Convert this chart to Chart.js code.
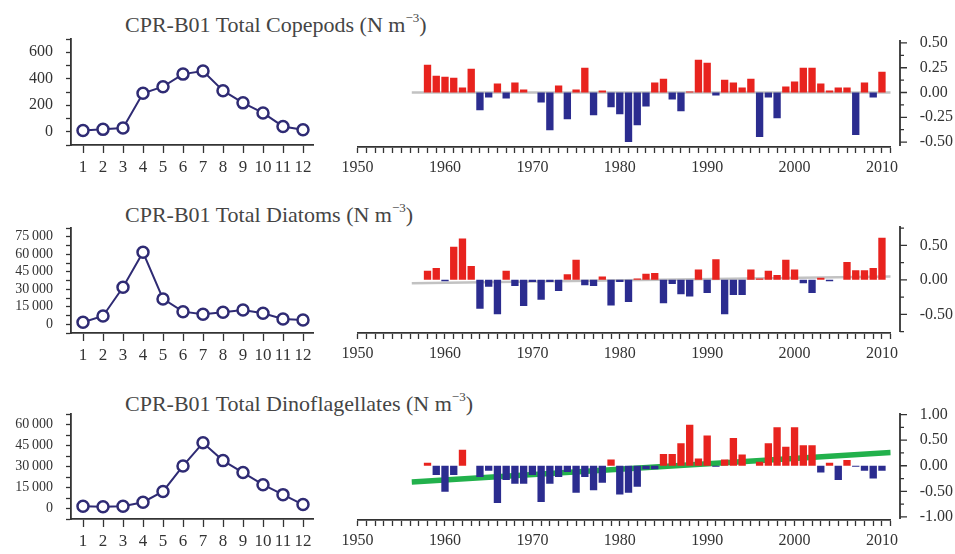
<!DOCTYPE html>
<html>
<head>
<meta charset="utf-8">
<title>CPR-B01 plankton</title>
<script src="https://cdn.jsdelivr.net/npm/chart.js@4.4.1/dist/chart.umd.min.js"></script>
<style>
  html, body { margin: 0; padding: 0; background: #fff; }
  #page { position: relative; width: 955px; height: 554px; overflow: hidden; background: #fff; }
  #page canvas { position: absolute; }
  .ttl { position: absolute; left: 125px; font: 22px/22px "Liberation Serif", serif; color: #454545; white-space: nowrap; }
  .ttl sup { font-size: 13px; position: relative; top: -2px; }
</style>
</head>
<body>
<div id="page">
  <div class="ttl" style="top:9px">CPR-B01 Total Copepods (N m<sup>−3</sup>)</div>
  <div class="ttl" style="top:199px">CPR-B01 Total Diatoms (N m<sup>−3</sup>)</div>
  <div class="ttl" style="top:388px">CPR-B01 Total Dinoflagellates (N m<sup>−3</sup>)</div>

  <canvas id="copeMonth" width="330" height="150" style="left:0;top:27px"></canvas>
  <canvas id="copeYear" width="615" height="155" style="left:340px;top:28px"></canvas>
  <canvas id="diatomMonth" width="330" height="149" style="left:0;top:216px"></canvas>
  <canvas id="diatomYear" width="615" height="155" style="left:340px;top:214px"></canvas>
  <canvas id="dinoMonth" width="330" height="149" style="left:0;top:402px"></canvas>
  <canvas id="dinoYear" width="615" height="155" style="left:340px;top:401px"></canvas>
</div>

<script>
/* ── Data ─────────────────────────────────────────────────── */
var months = [1, 2, 3, 4, 5, 6, 7, 8, 9, 10, 11, 12];
var copeMonthly   = [10, 18, 28, 290, 340, 435, 458, 310, 218, 142, 40, 15];
var diatomMonthly = [1700, 7100, 31700, 61700, 21700, 10800, 8600, 10300, 12300, 9400, 4500, 3700];
var dinoMonthly   = [1600, 1200, 1600, 4500, 12200, 30400, 46900, 34200, 25700, 17000, 9900, 2800];

var years = [1958, 1959, 1960, 1961, 1962, 1963, 1964, 1965, 1966, 1967,
             1968, 1969, 1970, 1971, 1972, 1973, 1974, 1975, 1976, 1977,
             1978, 1979, 1980, 1981, 1982, 1983, 1984, 1985, 1986, 1987,
             1988, 1989, 1990, 1991, 1992, 1993, 1994, 1995, 1996, 1997,
             1998, 1999, 2000, 2001, 2002, 2003, 2004, 2005, 2006, 2007,
             2008, 2009, 2010];

var copeAnom = [0.28, 0.17, 0.16, 0.15, 0.05, 0.24, -0.18, -0.05, 0.09, -0.06,
                0.10, 0.03, 0.00, -0.10, -0.38, 0.07, -0.27, 0.03, 0.25, -0.23,
                0.02, -0.15, -0.22, -0.50, -0.33, -0.14, 0.10, 0.14, -0.07, -0.19,
                0.01, 0.33, 0.30, -0.03, 0.13, 0.10, 0.05, 0.14, -0.45, -0.05,
                -0.26, 0.06, 0.11, 0.25, 0.25, 0.09, 0.02, 0.05, 0.05, -0.43,
                0.10, -0.05, 0.21];

var diatomAnom = [0.13, 0.17, -0.02, 0.48, 0.60, 0.20, -0.42, -0.10, -0.50, 0.13,
                  -0.09, -0.38, -0.03, -0.29, -0.03, -0.16, 0.08, 0.29, -0.08, -0.09,
                  0.05, -0.37, -0.03, -0.32, 0.02, 0.09, 0.10, -0.34, -0.06, -0.21,
                  -0.24, 0.15, -0.19, 0.30, -0.50, -0.22, -0.22, 0.15, 0.02, 0.13,
                  0.07, 0.29, 0.15, -0.05, -0.19, 0.03, -0.02, 0.00, 0.26, 0.14,
                  0.14, 0.17, 0.61];

var dinoAnom = [0.06, -0.18, -0.51, -0.18, 0.31, 0.00, -0.22, -0.10, -0.73, -0.28,
                -0.35, -0.35, -0.18, -0.71, -0.35, -0.22, -0.12, -0.53, -0.22, -0.48,
                -0.33, 0.12, -0.56, -0.53, -0.41, -0.07, -0.07, 0.23, 0.23, 0.44,
                0.80, 0.14, 0.59, -0.02, 0.12, 0.54, 0.22, 0.00, 0.08, 0.44,
                0.75, 0.37, 0.75, 0.40, 0.40, -0.13, 0.06, -0.28, 0.11, -0.02,
                -0.10, -0.25, -0.10];

/* trend lines: start / end year and value */
var trendYears  = [1956.2, 2011];
var copeTrend   = [0.00, 0.00];
var diatomTrend = [-0.05, 0.05];
var dinoTrend   = [-0.32, 0.26];

/* tick labels */
var yearLabels       = [1950, 1960, 1970, 1980, 1990, 2000, 2010];
var copeYLabels      = [0, 200, 400, 600];
var diatomYLabels    = [0, 15000, 30000, 45000, 60000, 75000];
var dinoYLabels      = [0, 15000, 30000, 45000, 60000];
var copeAnomLabels   = [-0.5, -0.25, 0, 0.25, 0.5];
var diatomAnomLabels = [-0.5, 0, 0.5];
var dinoAnomLabels   = [-1, -0.5, 0, 0.5, 1];

(function () {
  "use strict";

  var SERIF = "'Liberation Serif', 'DejaVu Serif', serif";
  var NAVY = "#2f2b74";
  var RED = "#e8231e";
  var BLUE = "#2b2c8f";
  var AXIS = "#333333";
  var TXT = "#333333";

  Chart.defaults.font.family = SERIF;
  Chart.defaults.color = TXT;

  function thin(v) {
    return String(v).replace(/\B(?=(\d{3})+(?!\d))/g, "\u2009");
  }

  /* fixed box sizes so the plot areas land where the figure has them */
  function fixWidth(w) {
    return function (s) { s.width = w; s.paddingTop = 0; s.paddingBottom = 0; };
  }
  function fixHeight(h) {
    return function (s) { s.height = h; s.paddingLeft = 0; s.paddingRight = 0; };
  }

  /* ── Right-hand axis, set a little apart from the plot ─────── */
  var rightAxis = {
    id: "rightAxis",
    afterDraw: function (chart, args, opts) {
      var ys = chart.scales.y, area = chart.chartArea, ctx = chart.ctx;
      var x0 = area.right + opts.gap;
      ctx.save();
      ctx.strokeStyle = AXIS;
      ctx.lineWidth = 1.8;
      ctx.beginPath();
      ctx.moveTo(x0, area.top);
      ctx.lineTo(x0, area.bottom - 1);
      ctx.stroke();
      ctx.lineWidth = 1.3;
      ctx.beginPath();
      ys.ticks.forEach(function (t) {
        var py = ys.getPixelForValue(t.value);
        var major = opts.labels.indexOf(t.value) >= 0;
        ctx.moveTo(x0, py);
        ctx.lineTo(x0 + (major ? 7 : 4), py);
      });
      ctx.stroke();
      ctx.restore();
    }
  };

  /* ── Monthly climatology (line + open circles) ─────────────── */
  function buildMonthly(canvasId, values, yMin, yMax, yStep, yLabels, fontSize) {
    new Chart(document.getElementById(canvasId), {
      type: "line",
      data: {
        datasets: [{
          data: months.map(function (m, i) { return { x: m, y: values[i] }; }),
          borderColor: NAVY,
          borderWidth: 2,
          pointRadius: 5.5,
          pointBorderWidth: 2.5,
          pointBackgroundColor: "#ffffff",
          pointBorderColor: NAVY,
          tension: 0,
          clip: false
        }]
      },
      options: {
        responsive: false,
        animation: false,
        events: [],
        layout: { padding: { top: 12, right: 17, left: 0, bottom: 0 } },
        plugins: { legend: { display: false }, tooltip: { enabled: false } },
        scales: {
          x: {
            type: "linear", min: 0.4, max: 12.5, offset: false,
            afterFit: fixHeight(32),
            grid: { drawOnChartArea: false, tickLength: 8, tickColor: AXIS, tickWidth: 1.3 },
            border: { color: AXIS, width: 1.8 },
            ticks: {
              stepSize: 1, includeBounds: false, autoSkip: false, maxRotation: 0,
              padding: 4, color: TXT, font: { size: 17 },
              callback: function (v) { return months.indexOf(v) >= 0 ? String(v) : ""; }
            }
          },
          y: {
            min: yMin, max: yMax,
            afterFit: fixWidth(71),
            grid: { drawOnChartArea: false, tickLength: 5, tickColor: AXIS, tickWidth: 1.3 },
            border: { color: AXIS, width: 1.8 },
            ticks: {
              stepSize: yStep, includeBounds: false, autoSkip: false, padding: 13, color: TXT,
              font: { size: fontSize },
              callback: function (v) { return yLabels.indexOf(v) >= 0 ? thin(v) : ""; }
            }
          }
        }
      }
    });
  }

  /* ── Annual anomalies (bars + trend line) ──────────────────── */
  function buildAnomaly(canvasId, values, trend, trendColor, trendWidth,
                        yMin, yMax, yStep, yLabels) {
    new Chart(document.getElementById(canvasId), {
      type: "line",
      data: {
        datasets: [{
          type: "bar",
          order: 1,
          data: years.map(function (yr, i) { return { x: yr, y: values[i] }; }),
          backgroundColor: function (c) { return c.raw && c.raw.y < 0 ? BLUE : RED; },
          borderWidth: 0,
          categoryPercentage: 1,
          barPercentage: 0.84
        }, {
          type: "line",
          order: 2,
          data: trendYears.map(function (yr, i) { return { x: yr, y: trend[i] }; }),
          borderColor: trendColor,
          borderWidth: trendWidth,
          pointRadius: 0,
          borderCapStyle: "butt"
        }]
      },
      options: {
        responsive: false,
        animation: false,
        events: [],
        layout: { padding: { top: 12, right: 0, left: 17.6, bottom: 0 } },
        plugins: {
          legend: { display: false },
          tooltip: { enabled: false },
          rightAxis: { gap: 9.3, labels: yLabels }
        },
        scales: {
          x: {
            type: "linear", min: 1950, max: 2011, offset: false,
            afterFit: fixHeight(36),
            grid: { offset: false, drawOnChartArea: false, tickLength: 6, tickColor: AXIS, tickWidth: 1.3 },
            border: { color: AXIS, width: 1.8 },
            ticks: {
              stepSize: 1, includeBounds: false, autoSkip: false, maxRotation: 0,
              padding: 5, color: TXT, font: { size: 16 },
              callback: function (v) { return yearLabels.indexOf(v) >= 0 ? String(v) : ""; }
            }
          },
          y: {
            position: "right", min: yMin, max: yMax,
            afterFit: fixWidth(64.3),
            grid: { display: false, drawTicks: false },
            border: { display: false },
            ticks: {
              stepSize: yStep, includeBounds: false, autoSkip: false, padding: 29, color: TXT,
              font: { size: 16 },
              callback: function (v) { return yLabels.indexOf(v) >= 0 ? v.toFixed(2) : ""; }
            }
          }
        }
      },
      plugins: [rightAxis]
    });
  }

  buildMonthly("copeMonth", copeMonthly, -100, 700, 100, copeYLabels, 16);
  buildMonthly("diatomMonth", diatomMonthly, -7500, 82500, 7500, diatomYLabels, 14);
  buildMonthly("dinoMonth", dinoMonthly, -7500, 67500, 7500, dinoYLabels, 14);

  buildAnomaly("copeYear", copeAnom, copeTrend, "#c2c2c2", 2.5, -0.55, 0.53, 0.125, copeAnomLabels);
  buildAnomaly("diatomYear", diatomAnom, diatomTrend, "#c2c2c2", 2.5, -0.77, 0.78, 0.25, diatomAnomLabels);
  buildAnomaly("dinoYear", dinoAnom, dinoTrend, "#22b14c", 5.5, -1.06, 1.03, 0.25, dinoAnomLabels);
})();
</script>
</body>
</html>
